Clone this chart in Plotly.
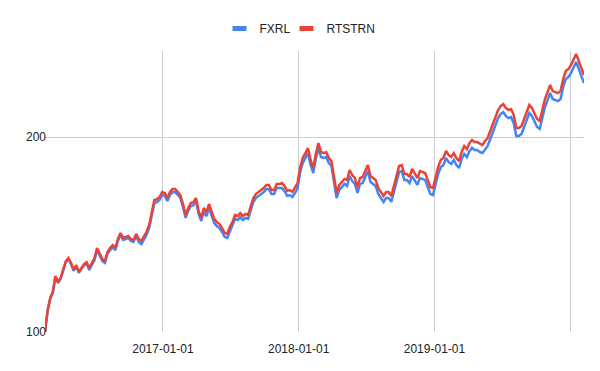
import pandas as pd
import plotly.graph_objects as go

# Weekly closing dates (Fridays) spanning the chart
dates = pd.date_range("2016-02-19", "2020-02-07", freq="W-FRI")

rtstrn = [
    100.0, 108.1, 112.9, 115.3, 122.0, 119.4, 121.2, 124.7, 128.7, 130.1,
    127.8, 124.7, 126.8, 123.8, 125.6, 127.3, 128.2, 125.6, 127.8, 130.1,
    134.8, 132.4, 129.6, 128.7, 132.9, 134.8, 136.2, 134.8, 139.2, 142.2,
    139.7, 140.2, 140.7, 139.2, 138.7, 141.7, 139.2, 138.2, 140.2, 142.7,
    146.3, 152.6, 159.9, 160.4, 161.6, 164.5, 163.9, 161.0, 164.5, 166.2,
    166.2, 164.5, 162.7, 157.6, 151.6, 155.4, 158.2, 158.7, 161.0, 153.7,
    150.0, 155.4, 153.2, 157.6, 153.2, 149.4, 147.8, 146.8, 144.7, 142.2,
    141.7, 145.3, 147.8, 151.6, 151.0, 152.6, 151.0, 152.1, 151.6, 156.0,
    161.0, 163.3, 164.5, 165.6, 166.8, 168.6, 168.6, 165.6, 165.6, 169.2,
    169.2, 169.8, 168.0, 165.1, 165.6, 164.5, 166.8, 169.8, 179.8, 185.6,
    188.9, 192.3, 184.3, 179.1, 188.3, 195.7, 189.6, 188.9, 189.6, 185.6,
    183.6, 174.7, 163.9, 168.6, 170.4, 172.3, 171.6, 177.9, 174.7, 172.9,
    167.4, 172.9, 173.5, 177.9, 181.0, 174.1, 172.9, 171.6, 166.8, 164.5,
    162.2, 164.5, 164.5, 162.2, 168.6, 174.1, 180.4, 181.0, 175.3, 175.3,
    173.5, 178.5, 176.0, 172.9, 177.2, 176.6, 176.0, 171.6, 167.4, 166.8,
    172.9, 179.8, 184.3, 185.6, 190.3, 187.6, 186.3, 188.9, 185.6, 183.6,
    189.6, 193.7, 191.6, 195.7, 197.9, 196.4, 196.4, 195.1, 194.4, 197.2,
    199.3, 204.3, 209.4, 214.7, 220.1, 223.3, 224.9, 221.7, 220.1, 220.9,
    216.2, 206.5, 206.5, 208.0, 213.2, 219.3, 224.1, 221.7, 217.0, 213.2,
    211.7, 219.3, 228.9, 234.6, 240.6, 235.5, 234.6, 233.8, 235.5, 245.8,
    252.8, 254.6, 258.3, 262.9, 268.6, 262.0, 255.6, 249.3,
]

fxrl = [
    100.0, 107.7, 112.5, 114.9, 121.6, 119.0, 120.8, 124.3, 128.2, 129.6,
    127.3, 124.3, 126.4, 123.4, 125.2, 126.8, 127.3, 124.7, 126.9, 129.2,
    133.8, 131.5, 128.7, 127.8, 132.0, 133.8, 135.2, 133.8, 138.2, 141.2,
    138.7, 139.2, 139.7, 138.2, 137.7, 140.7, 137.7, 136.7, 138.7, 141.2,
    144.7, 151.0, 158.2, 158.7, 159.9, 162.8, 162.2, 159.3, 162.8, 164.4,
    164.4, 162.8, 161.0, 155.9, 150.0, 153.8, 156.5, 157.0, 159.3, 152.1,
    148.4, 153.2, 151.0, 155.4, 151.0, 147.3, 145.7, 144.7, 142.7, 140.2,
    139.7, 143.2, 145.7, 149.5, 148.9, 150.4, 148.9, 150.0, 149.5, 153.8,
    158.7, 161.0, 162.2, 163.3, 164.4, 166.2, 166.2, 163.3, 163.3, 166.8,
    166.8, 166.8, 165.0, 162.2, 162.7, 161.6, 163.9, 166.8, 176.6, 182.3,
    185.6, 188.9, 181.1, 175.9, 185.0, 192.3, 186.3, 185.6, 186.3, 182.3,
    180.4, 171.6, 161.0, 165.6, 167.4, 169.3, 168.0, 174.1, 171.0, 169.3,
    163.9, 169.3, 169.8, 174.1, 177.2, 170.4, 169.3, 168.0, 163.3, 161.0,
    158.8, 161.0, 161.0, 158.8, 165.0, 170.4, 176.6, 177.2, 171.6, 171.6,
    169.8, 174.1, 171.7, 168.7, 172.8, 172.3, 171.7, 167.4, 163.3, 162.7,
    168.7, 175.4, 179.8, 181.0, 185.6, 183.0, 181.7, 184.3, 181.0, 179.1,
    184.9, 188.3, 186.2, 190.2, 192.4, 190.9, 190.9, 189.6, 189.0, 191.7,
    193.7, 198.6, 203.5, 208.7, 213.9, 217.0, 218.6, 215.5, 213.9, 214.7,
    210.1, 200.7, 200.7, 202.2, 207.2, 213.2, 217.8, 215.5, 210.9, 207.2,
    205.8, 213.2, 222.5, 228.0, 233.9, 228.9, 228.0, 227.2, 228.9, 238.9,
    245.7, 247.5, 251.1, 255.5, 261.1, 254.7, 248.4, 242.3,
]

series_names = ["FXRL", "RTSTRN"]
series_colors = ["#4285F4", "#EA4335"]
x_tick_dates = ["2017-01-01", "2018-01-01", "2019-01-01", "2020-01-01"]
x_tick_text = ["2017-01-01", "2018-01-01", "2019-01-01", ""]
y_tick_vals = [100, 200]
y_tick_text = ["100", "200"]

fig = go.Figure()
for name, vals, col in zip(series_names, [fxrl, rtstrn], series_colors):
    fig.add_trace(go.Scatter(
        x=dates, y=vals, mode="lines", name=name,
        line=dict(color=col, width=2.5), showlegend=False,
        hoverinfo="skip",
    ))
    # legend swatch
    fig.add_trace(go.Scatter(
        x=[dates[0]], y=[None], mode="markers", name=name,
        marker=dict(symbol="line-ew-open", size=10, color=col,
                    line=dict(color=col, width=5)),
        showlegend=True, hoverinfo="skip",
    ))
# empty spacer entry so the last legend label is not clipped
fig.add_trace(go.Scatter(
    x=[dates[0]], y=[None], mode="markers", name=" ",
    marker=dict(symbol="line-ew-open", size=10, color="rgba(0,0,0,0)",
                line=dict(color="rgba(0,0,0,0)", width=0)),
    showlegend=True, hoverinfo="skip",
))

fig.update_layout(
    width=600, height=371,
    margin=dict(l=45, r=16, t=51, b=39, autoexpand=False),
    paper_bgcolor="white", plot_bgcolor="white",
    font=dict(family="Arial, Liberation Sans, sans-serif", size=12, color="#444444"),
    legend=dict(orientation="h", x=0.5102, xanchor="center",
                y=1.08, yanchor="middle", font=dict(size=12, color="#222222"),
                itemwidth=30, entrywidth=22, entrywidthmode="pixels",
                itemclick=False, itemdoubleclick=False),
    xaxis=dict(
        type="date", range=["2016-02-19", "2020-02-07"],
        tickvals=x_tick_dates, ticktext=x_tick_text,
        showgrid=True, gridcolor="#cccccc", gridwidth=1,
        zeroline=False, showline=False, automargin=False, tickangle=0,
        ticks="outside", ticklen=6, tickcolor="rgba(0,0,0,0)",
        tickfont=dict(size=12, color="#222222"),
    ),
    yaxis=dict(
        type="log", range=[2.0, 2.4338],
        tickvals=y_tick_vals, ticktext=y_tick_text,
        showgrid=True, gridcolor="#cccccc", gridwidth=1,
        zeroline=False, showline=False, automargin=False,
        ticklabelstandoff=-2,
        tickfont=dict(size=12, color="#222222"),
    ),
)

fig.write_html("out.html", config={"displayModeBar": False},
               post_script="document.body.style.margin='0px';")
